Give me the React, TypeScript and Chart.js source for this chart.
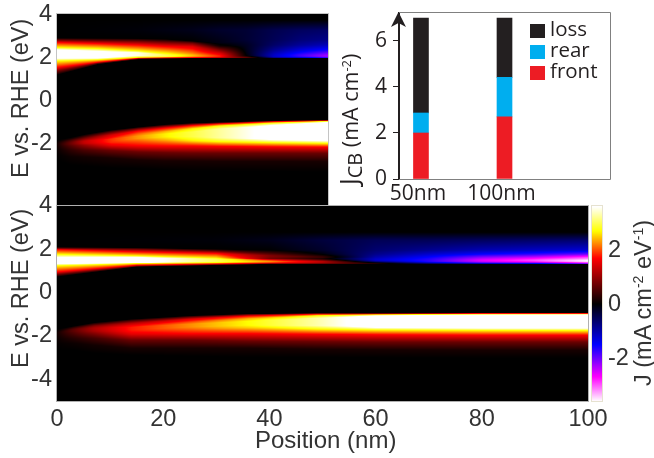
import React, { useEffect, useRef } from "react";
import { Chart, registerables } from "chart.js";

Chart.register(...registerables);

// Heat map panels: energy (eV) and current (mA cm-2 eV-1) read along each position column.
const topUpperPositions = [0, 15, 30, 40, 50, 60, 70, 80, 90, 100];
const topUpperEnergy = [
  [3.77, 3.3, 2.93, 2.84, 2.72, 2.49, 2.37, 2.0, 1.86, 1.56, 1.4, 1.21],
  [3.77, 3.3, 2.92, 2.81, 2.67, 2.44, 2.3, 2.0, 1.92, 1.8, 1.76, 1.7],
  [3.77, 3.3, 2.91, 2.79, 2.6, 2.33, 2.25, 2.11, 2.03, 1.99, 1.97, 1.93],
  [3.77, 3.3, 2.88, 2.74, 2.53, 2.22, 2.14, 2.08, 2.05, 2.01, 1.99, 1.96],
  [3.77, 3.3, 2.79, 2.7, 2.53, 2.22, 2.14, 2.08, 2.06, 2.02, 2.0, 1.98],
  [3.77, 3.3, 2.7, 2.56, 2.37, 2.22, 2.11, 2.07, 2.05, 2.02, 2.0, 1.98],
  [3.77, 3.3, 2.84, 2.6, 2.37, 2.23, 2.14, 2.09, 2.06, 2.02, 2.0, 1.98],
  [3.77, 3.3, 2.84, 2.6, 2.37, 2.23, 2.14, 2.09, 2.06, 2.02, 2.0, 1.98],
  [3.77, 3.3, 2.84, 2.6, 2.37, 2.23, 2.14, 2.09, 2.06, 2.02, 2.0, 1.98],
  [3.77, 3.3, 2.84, 2.6, 2.37, 2.23, 2.14, 2.09, 2.06, 2.02, 2.0, 1.98],
];
const topUpperCurrent = [
  [0, 0, 0, 0.7, 1.7, 2.7, 3.7, 3.7, 2.7, 1.7, 0.8, 0],
  [0, -0.02, 0, 0.7, 1.7, 2.7, 3.7, 3.7, 2.7, 1.7, 0.8, 0],
  [0, -0.05, 0, 0.7, 1.7, 2.7, 3.5, 3.5, 2.7, 1.7, 0.8, 0],
  [0, -0.1, 0, 0.7, 1.7, 2.7, 3.0, 3.0, 2.7, 1.7, 0.8, 0],
  [0, -0.15, 0, 0.7, 1.5, 2.2, 2.45, 2.45, 2.2, 1.7, 0.8, 0],
  [0, -0.25, -0.1, 0.1, 0.9, 1.5, 1.8, 1.8, 1.7, 1.3, 0.7, 0],
  [0, -0.3, -0.3, -0.2, -0.15, -0.1, -0.05, 0, 0.4, 0.6, 0.3, 0],
  [0, -0.45, -0.5, -0.6, -0.85, -1.05, -1.15, -1.15, -1.15, -0.8, -0.3, 0],
  [0, -0.55, -0.7, -0.9, -1.3, -1.6, -1.8, -1.8, -1.7, -1.2, -0.5, 0],
  [0, -0.6, -0.8, -1.1, -1.6, -2.0, -2.25, -2.3, -2.2, -1.8, -0.8, 0],
];

const topLowerPositions = [0, 5, 10, 20, 30, 40, 50, 60, 80, 100];
const topLowerEnergy = [
  [-1.81, -1.86, -1.91, -1.95, -1.98, -2.0, -2.05, -2.14, -2.28, -2.51, -2.74],
  [-1.7, -1.77, -1.81, -1.86, -1.91, -1.95, -2.0, -2.09, -2.28, -2.6, -2.98],
  [-1.56, -1.63, -1.72, -1.81, -1.86, -1.93, -1.98, -2.05, -2.28, -2.6, -3.02],
  [-1.35, -1.44, -1.58, -1.7, -1.77, -1.86, -1.93, -2.05, -2.3, -2.65, -3.12],
  [-1.21, -1.28, -1.4, -1.53, -1.63, -1.74, -1.84, -2.07, -2.37, -2.74, -3.14],
  [-1.09, -1.16, -1.26, -1.42, -1.53, -1.67, -1.81, -2.09, -2.4, -2.79, -3.21],
  [-1.02, -1.07, -1.14, -1.28, -1.44, -1.66, -1.86, -2.09, -2.42, -2.79, -3.26],
  [-0.98, -1.02, -1.06, -1.16, -1.3, -1.71, -1.89, -2.11, -2.42, -2.81, -3.26],
  [-0.91, -0.93, -0.96, -1.02, -1.15, -1.77, -1.94, -2.13, -2.42, -2.81, -3.28],
  [-0.87, -0.89, -0.92, -0.94, -1.01, -1.81, -1.97, -2.14, -2.43, -2.82, -3.3],
];
const topLowerCurrent = [
  [0, 0.02, 0.05, 0.08, 0.1, 0.1, 0.1, 0.08, 0.05, 0.02, 0],
  [0, 0.2, 0.4, 0.55, 0.65, 0.7, 0.7, 0.55, 0.3, 0.08, 0],
  [0, 0.3, 0.7, 1.1, 1.3, 1.3, 1.25, 1.0, 0.5, 0.12, 0],
  [0, 0.6, 1.4, 1.7, 1.9, 1.9, 1.85, 1.6, 0.7, 0.15, 0],
  [0, 0.7, 1.7, 2.1, 2.3, 2.3, 2.1, 1.7, 0.7, 0.15, 0],
  [0, 0.7, 1.7, 2.4, 2.65, 2.65, 2.4, 1.7, 0.7, 0.15, 0],
  [0, 0.7, 1.7, 2.6, 2.95, 2.95, 2.6, 1.7, 0.7, 0.15, 0],
  [0, 0.7, 1.7, 2.7, 3.25, 3.25, 2.7, 1.7, 0.7, 0.15, 0],
  [0, 0.7, 1.7, 2.7, 3.8, 3.8, 2.7, 1.7, 0.7, 0.15, 0],
  [0, 0.7, 1.7, 2.7, 3.9, 3.9, 2.7, 1.7, 0.7, 0.15, 0],
];

const bottomUpperPositions = [0, 15, 30, 40, 50, 60, 70, 80, 90, 100];
const bottomUpperEnergy = [
  [2.79, 2.42, 2.11, 2.05, 1.99, 1.77, 1.61, 1.35, 1.24, 0.96, 0.84, 0.73],
  [2.79, 2.42, 2.08, 2.01, 1.88, 1.7, 1.61, 1.39, 1.35, 1.27, 1.22, 1.19],
  [2.79, 2.42, 2.01, 1.92, 1.81, 1.61, 1.55, 1.43, 1.39, 1.33, 1.29, 1.26],
  [2.79, 2.42, 1.96, 1.81, 1.7, 1.57, 1.5, 1.45, 1.41, 1.37, 1.34, 1.31],
  [2.79, 2.42, 1.96, 1.78, 1.64, 1.56, 1.5, 1.45, 1.41, 1.36, 1.33, 1.3],
  [2.79, 2.42, 1.96, 1.78, 1.64, 1.56, 1.5, 1.45, 1.41, 1.36, 1.33, 1.3],
  [2.79, 2.42, 1.96, 1.78, 1.64, 1.56, 1.5, 1.45, 1.41, 1.36, 1.33, 1.3],
  [2.79, 2.42, 1.96, 1.78, 1.64, 1.56, 1.5, 1.45, 1.41, 1.36, 1.33, 1.3],
  [2.79, 2.42, 1.96, 1.78, 1.64, 1.56, 1.5, 1.45, 1.41, 1.36, 1.33, 1.3],
  [2.79, 2.42, 1.96, 1.78, 1.64, 1.56, 1.5, 1.45, 1.41, 1.36, 1.33, 1.3],
];
const bottomUpperCurrent = [
  [0, 0, 0, 0.7, 1.7, 2.7, 3.7, 3.7, 2.7, 1.7, 0.7, 0],
  [0, -0.02, 0, 0.7, 1.7, 2.7, 3.9, 3.9, 2.7, 1.7, 0.7, 0],
  [0, -0.05, 0, 0.7, 1.7, 2.6, 3.0, 3.0, 2.7, 1.7, 0.7, 0],
  [0, -0.15, 0, 0.5, 0.9, 0.8, 1.9, 2.3, 2.2, 1.7, 0.9, 0],
  [0, -0.35, -0.25, -0.05, 0.4, 0.15, 0.7, 1.2, 1.25, 1.0, 0.5, 0],
  [0, -0.5, -0.65, -0.8, -1.0, -1.15, -1.2, -0.9, -0.4, 0.2, 0.2, 0],
  [0, -0.5, -0.85, -1.2, -1.5, -1.65, -1.7, -1.7, -1.5, -0.8, -0.4, 0],
  [0, -0.55, -1.05, -1.5, -2.1, -2.4, -2.6, -2.5, -2.3, -1.5, -0.7, 0],
  [0, -0.6, -1.15, -1.7, -2.4, -2.8, -3.0, -2.9, -2.6, -1.8, -1.0, 0],
  [0, -0.65, -1.25, -2.0, -2.9, -3.2, -3.55, -3.6, -3.2, -2.6, -1.8, 0],
];

const bottomLowerPositions = [0, 3, 7, 14, 25, 36, 49, 60, 80, 100];
const bottomLowerEnergy = [
  [-1.68, -1.73, -1.78, -1.82, -1.85, -1.87, -1.92, -2.01, -2.15, -2.38, -2.65],
  [-1.55, -1.59, -1.64, -1.68, -1.73, -1.78, -1.82, -1.92, -2.1, -2.33, -2.65],
  [-1.38, -1.45, -1.52, -1.59, -1.64, -1.73, -1.78, -1.87, -2.1, -2.42, -2.79],
  [-1.22, -1.29, -1.41, -1.52, -1.59, -1.71, -1.78, -1.92, -2.19, -2.56, -2.88],
  [-1.06, -1.12, -1.22, -1.36, -1.45, -1.59, -1.68, -1.89, -2.19, -2.56, -2.93],
  [-0.97, -1.01, -1.08, -1.2, -1.32, -1.5, -1.62, -1.89, -2.24, -2.56, -2.98],
  [-0.94, -0.96, -0.99, -1.06, -1.18, -1.52, -1.68, -1.92, -2.26, -2.61, -2.98],
  [-0.93, -0.96, -0.98, -1.02, -1.08, -1.57, -1.72, -1.94, -2.28, -2.63, -3.0],
  [-0.93, -0.95, -0.96, -0.99, -1.05, -1.59, -1.74, -1.96, -2.28, -2.65, -3.02],
  [-0.92, -0.94, -0.96, -0.98, -1.04, -1.59, -1.75, -1.96, -2.28, -2.65, -3.02],
];
const bottomLowerCurrent = [
  [0, 0.02, 0.05, 0.08, 0.1, 0.1, 0.1, 0.08, 0.05, 0.02, 0],
  [0, 0.2, 0.4, 0.55, 0.6, 0.6, 0.55, 0.45, 0.25, 0.08, 0],
  [0, 0.4, 0.8, 1.05, 1.15, 1.15, 1.1, 0.9, 0.45, 0.12, 0],
  [0, 0.5, 1.2, 1.6, 1.8, 1.8, 1.75, 1.5, 0.7, 0.15, 0],
  [0, 0.6, 1.5, 2.0, 2.25, 2.25, 2.1, 1.7, 0.7, 0.15, 0],
  [0, 0.7, 1.7, 2.4, 2.7, 2.7, 2.5, 1.7, 0.7, 0.15, 0],
  [0, 0.7, 1.7, 2.7, 3.3, 3.3, 2.7, 1.7, 0.7, 0.15, 0],
  [0, 0.7, 1.7, 2.7, 3.9, 3.9, 2.7, 1.7, 0.7, 0.15, 0],
  [0, 0.7, 1.7, 2.7, 4.0, 4.0, 2.7, 1.7, 0.7, 0.15, 0],
  [0, 0.7, 1.7, 2.7, 4.0, 4.0, 2.7, 1.7, 0.7, 0.15, 0],
];

// Colour scale stops
const colorValues = [-3.6, -2.7, -1.5, 0, 1.7, 2.7, 3.6];
const colorRed = [255, 255, 0, 0, 255, 255, 255];
const colorGreen = [255, 0, 0, 0, 0, 255, 255];
const colorBlue = [255, 255, 255, 0, 0, 0, 255];

// Bar panel
const barCategories = ["50nm", "100nm"];
const frontValues = [2.0, 2.7];
const rearValues = [0.87, 1.72];
const lossValues = [4.13, 2.58];

const energyTicksTop = [4, 2, 0, -2];
const energyTicksBottom = [4, 2, 0, -2, -4];
const positionTicks = [0, 20, 40, 60, 80, 100];
const colorbarTicks = [2, 0, -2];
const barTicks = [0, 2, 4, 6];

const SANS = "'Liberation Sans', Arial, sans-serif";
const MYRIAD = "'Open Sans', sans-serif";
const GREY = "#333333";

type Band = { positions: number[]; energy: number[][]; current: number[][] };

const topBands: Band[] = [
  { positions: topUpperPositions, energy: topUpperEnergy, current: topUpperCurrent },
  { positions: topLowerPositions, energy: topLowerEnergy, current: topLowerCurrent },
];
const bottomBands: Band[] = [
  { positions: bottomUpperPositions, energy: bottomUpperEnergy, current: bottomUpperCurrent },
  { positions: bottomLowerPositions, energy: bottomLowerEnergy, current: bottomLowerCurrent },
];

function colorOf(v: number): [number, number, number] {
  const n = colorValues.length;
  if (v <= colorValues[0]) return [colorRed[0], colorGreen[0], colorBlue[0]];
  if (v >= colorValues[n - 1]) return [colorRed[n - 1], colorGreen[n - 1], colorBlue[n - 1]];
  let i = 0;
  while (v > colorValues[i + 1]) i++;
  const t = (v - colorValues[i]) / (colorValues[i + 1] - colorValues[i]);
  return [
    colorRed[i] + (colorRed[i + 1] - colorRed[i]) * t,
    colorGreen[i] + (colorGreen[i + 1] - colorGreen[i]) * t,
    colorBlue[i] + (colorBlue[i + 1] - colorBlue[i]) * t,
  ];
}

function columnAt(band: Band, pos: number) {
  const p = band.positions;
  let i = 0;
  while (i < p.length - 2 && pos > p[i + 1]) i++;
  const t = Math.min(1, Math.max(0, (pos - p[i]) / (p[i + 1] - p[i])));
  const e = band.energy[i].map((a, k) => a + (band.energy[i + 1][k] - a) * t);
  const c = band.current[i].map((a, k) => a + (band.current[i + 1][k] - a) * t);
  return { e, c };
}

function currentAt(col: { e: number[]; c: number[] }, energy: number) {
  const { e, c } = col;
  if (energy >= e[0] || energy <= e[e.length - 1]) return 0;
  let k = 0;
  while (energy < e[k + 1]) k++;
  const span = e[k] - e[k + 1];
  const t = span > 0 ? (e[k] - energy) / span : 0;
  return c[k] + (c[k + 1] - c[k]) * t;
}

function paintField(chart: any, fn: (x: number, y: number) => number) {
  const { left, top, width, height } = chart.chartArea;
  const w = Math.round(width);
  const h = Math.round(height);
  const off = document.createElement("canvas");
  off.width = w;
  off.height = h;
  const octx = off.getContext("2d")!;
  const img = octx.createImageData(w, h);
  for (let px = 0; px < w; px++) {
    for (let py = 0; py < h; py++) {
      const [r, g, b] = colorOf(fn(left + px + 0.5, top + py + 0.5));
      const o = (py * w + px) * 4;
      img.data[o] = r;
      img.data[o + 1] = g;
      img.data[o + 2] = b;
      img.data[o + 3] = 255;
    }
  }
  octx.putImageData(img, 0, 0);
  chart.ctx.drawImage(off, left, top);
}

const heatPlugin = (bands: Band[], frame: string) => ({
  id: "heat",
  beforeDatasetsDraw(chart: any) {
    const xs = chart.scales.x;
    const ys = chart.scales.y;
    let lastX = NaN;
    let cols: any[] = [];
    paintField(chart, (px, py) => {
      if (px !== lastX) {
        lastX = px;
        const pos = xs.getValueForPixel(px);
        cols = bands.map((b) => columnAt(b, pos));
      }
      const en = ys.getValueForPixel(py);
      return cols.reduce((s, c) => s + currentAt(c, en), 0);
    });
    const { left, top, width, height } = chart.chartArea;
    const ctx = chart.ctx;
    ctx.save();
    ctx.strokeStyle = frame;
    ctx.lineWidth = 1;
    ctx.strokeRect(left - 0.5, top - 0.5, width + 1, height + 1);
    ctx.restore();
  },
});

const colorbarPlugin = {
  id: "colorbar",
  beforeDatasetsDraw(chart: any) {
    const ys = chart.scales.y;
    paintField(chart, (_px, py) => ys.getValueForPixel(py));
    const { left, top, width, height } = chart.chartArea;
    const ctx = chart.ctx;
    ctx.save();
    ctx.strokeStyle = "#e6e2d0";
    ctx.lineWidth = 1;
    ctx.strokeRect(left - 0.5, top - 0.5, width + 1, height + 1);
    ctx.restore();
  },
};

const barFramePlugin = {
  id: "barFrame",
  beforeDatasetsDraw(chart: any) {
    const { left, top, right, bottom } = chart.chartArea;
    const ctx = chart.ctx;
    ctx.save();
    ctx.strokeStyle = "#808080";
    ctx.lineWidth = 1;
    ctx.beginPath();
    ctx.moveTo(left, top - 0.5);
    ctx.lineTo(right + 0.5, top - 0.5);
    ctx.lineTo(right + 0.5, bottom + 0.5);
    ctx.lineTo(left, bottom + 0.5);
    ctx.stroke();
    ctx.restore();
  },
  afterDatasetsDraw(chart: any) {
    const { left, top } = chart.chartArea;
    const ctx = chart.ctx;
    ctx.save();
    ctx.fillStyle = "#231f20";
    ctx.beginPath();
    ctx.moveTo(left - 0.5, top - 1);
    ctx.lineTo(left + 7, top + 14);
    ctx.lineTo(left - 0.5, top + 10);
    ctx.lineTo(left - 8, top + 14);
    ctx.closePath();
    ctx.fill();
    // legend, top entry first, read from the datasets
    const items = chart.data.datasets.slice().reverse();
    ctx.font = `20.5px ${MYRIAD}`;
    ctx.textBaseline = "middle";
    items.forEach((d: any, i: number) => {
      const y = chart.chartArea.top + 11 + i * 21;
      ctx.fillStyle = d.backgroundColor;
      ctx.fillRect(190, y, 15, 14);
      ctx.fillStyle = "#231f20";
      ctx.fillText(d.label, 210, y + 6);
    });
    ctx.restore();
  },
};

function pick(scale: any, list: number[]) {
  scale.ticks = list.map((value) => ({ value }));
}

function fixSize(s: any, size: { width?: number; height?: number }) {
  if (size.width !== undefined) s.width = size.width;
  if (size.height !== undefined) s.height = size.height;
  s.paddingLeft = 0;
  s.paddingRight = 0;
  s.paddingTop = 0;
  s.paddingBottom = 0;
}

function heatConfig(
  bands: Band[],
  yMin: number,
  yMax: number,
  yTicks: number[],
  showX: boolean,
  padding: any,
  frame: string
): any {
  return {
    type: "scatter",
    data: {
      datasets: bands.map((b, bi) => ({
        label: bi === 0 ? "upper band" : "lower band",
        data: b.positions.flatMap((x, i) =>
          b.energy[i].map((y, k) => ({ x, y, v: b.current[i][k] }))
        ),
        pointRadius: 0,
        showLine: false,
      })),
    },
    options: {
      animation: false,
      responsive: false,
      events: [],
      layout: { padding, autoPadding: false },
      plugins: { legend: { display: false }, tooltip: { enabled: false } },
      scales: {
        x: {
          type: "linear",
          min: 0,
          max: 100,
          display: showX,
          border: { display: false },
          grid: { display: false, drawTicks: false },
          afterBuildTicks: (s: any) => pick(s, positionTicks),
          afterFit: (s: any) => fixSize(s, { height: showX ? 30 : 0 }),
          ticks: {
            autoSkip: false,
            maxRotation: 0,
            padding: 4,
            color: GREY,
            font: { family: SANS, size: 23.5 },
          },
        },
        y: {
          type: "linear",
          min: yMin,
          max: yMax,
          border: { display: false },
          grid: { display: false, drawTicks: false },
          afterBuildTicks: (s: any) => pick(s, yTicks),
          afterFit: (s: any) => fixSize(s, { width: 57 }),
          ticks: {
            autoSkip: false,
            padding: 5,
            color: GREY,
            font: { family: SANS, size: 23.5 },
          },
        },
      },
    },
    plugins: [heatPlugin(bands, frame)],
  };
}

function colorbarConfig(): any {
  return {
    type: "scatter",
    data: {
      datasets: [
        {
          label: "J",
          data: colorValues.map((y) => ({ x: 0, y })),
          pointRadius: 0,
        },
      ],
    },
    options: {
      animation: false,
      responsive: false,
      events: [],
      layout: { padding: { left: 7, top: 16, right: 0, bottom: 30 }, autoPadding: false },
      plugins: { legend: { display: false }, tooltip: { enabled: false } },
      scales: {
        x: { display: false, min: 0, max: 1 },
        y: {
          type: "linear",
          position: "right",
          min: -3.59,
          max: 3.63,
          border: { display: false },
          grid: { display: false, drawTicks: false },
          afterBuildTicks: (s: any) => pick(s, colorbarTicks),
          afterFit: (s: any) => fixSize(s, { width: 52 }),
          ticks: {
            autoSkip: false,
            padding: 6,
            color: GREY,
            font: { family: SANS, size: 23.5 },
          },
        },
      },
    },
    plugins: [colorbarPlugin],
  };
}

function barConfig(): any {
  const series = (label: string, values: number[], color: string) => ({
    label,
    data: values.map((y, x) => ({ x, y })),
    backgroundColor: color,
    barThickness: 15,
  });
  return {
    type: "bar",
    data: {
      datasets: [
        series("front", frontValues, "#ed1c24"),
        series("rear", rearValues, "#00aeef"),
        series("loss", lossValues, "#231f20"),
      ],
    },
    options: {
      animation: false,
      responsive: false,
      events: [],
      layout: { padding: { left: 0, top: 13, right: 20, bottom: 0 }, autoPadding: false },
      plugins: { legend: { display: false }, tooltip: { enabled: false } },
      scales: {
        x: {
          type: "linear",
          stacked: true,
          offset: false,
          min: -0.263,
          max: 2.263,
          border: { display: false },
          grid: { display: false, drawTicks: false },
          afterBuildTicks: (s: any) => pick(s, [0, 1]),
          afterFit: (s: any) => fixSize(s, { height: 26 }),
          ticks: {
            autoSkip: false,
            maxRotation: 0,
            padding: 2,
            labelOffset: -3,
            color: "#231f20",
            font: { family: MYRIAD, size: 21 },
            callback: (v: number) => barCategories[v],
          },
        },
        y: {
          type: "linear",
          stacked: true,
          min: 0,
          max: 7.217,
          border: { display: true, color: "#231f20", width: 2 },
          grid: { drawOnChartArea: false, drawTicks: true, tickLength: 6, color: "#231f20", lineWidth: 1 },
          afterBuildTicks: (s: any) => pick(s, barTicks),
          afterFit: (s: any) => fixSize(s, { width: 59 }),
          ticks: {
            autoSkip: false,
            padding: 6,
            color: "#231f20",
            font: { family: MYRIAD, size: 21 },
          },
        },
      },
    },
    plugins: [barFramePlugin],
  };
}

const rotated = (x: number, y: number, size: number, family: string, color: string): React.CSSProperties => ({
  position: "absolute",
  left: x,
  top: y,
  transformOrigin: "0 0",
  transform: "rotate(-90deg)",
  whiteSpace: "nowrap",
  fontFamily: family,
  fontSize: size,
  lineHeight: `${size}px`,
  color,
});

const supStyle: React.CSSProperties = { fontSize: "60%", verticalAlign: "0.55em", lineHeight: 0 };
const subStyle: React.CSSProperties = { fontSize: 20, verticalAlign: "-0.22em", lineHeight: 0 };

const canvasStyle = (left: number, top: number): React.CSSProperties => ({
  position: "absolute",
  left,
  top,
  display: "block",
});

export default function App() {
  const topRef = useRef<HTMLCanvasElement>(null);
  const bottomRef = useRef<HTMLCanvasElement>(null);
  const barRef = useRef<HTMLCanvasElement>(null);
  const cbRef = useRef<HTMLCanvasElement>(null);

  useEffect(() => {
    const charts = [
      new Chart(
        topRef.current!,
        heatConfig(topBands, -4.837, 4.047, energyTicksTop, false, { left: 0, top: 14, right: 2, bottom: 1 }, "#c4c4c4")
      ),
      new Chart(
        bottomRef.current!,
        heatConfig(bottomBands, -5, 4, energyTicksBottom, true, { left: 0, top: 16, right: 30, bottom: 27 }, "#b0b0b0")
      ),
      new Chart(barRef.current!, barConfig()),
      new Chart(cbRef.current!, colorbarConfig()),
    ];
    return () => charts.forEach((c) => c.destroy());
  }, []);

  return (
    <div style={{ position: "fixed", left: 0, top: 0, width: 654, height: 458, background: "#fff", overflow: "hidden" }}>
      <canvas ref={topRef} width={330} height={206} style={canvasStyle(0, 0)} />
      <canvas ref={barRef} width={290} height={205} style={canvasStyle(340, 0)} />
      <canvas ref={bottomRef} width={618} height={268} style={canvasStyle(0, 190)} />
      <canvas ref={cbRef} width={69} height={241} style={canvasStyle(585, 190)} />
      <div style={rotated(9, 178, 23.5, SANS, GREY)}>E vs. RHE (eV)</div>
      <div style={rotated(9, 368, 23.5, SANS, GREY)}>E vs. RHE (eV)</div>
      <div style={{ position: "absolute", left: 255, top: 428, whiteSpace: "nowrap", fontFamily: SANS, fontSize: 24, lineHeight: "24px", color: GREY }}>
        Position (nm)
      </div>
      <div style={rotated(338, 185, 21.5, MYRIAD, "#231f20")}>
        <span style={{ fontSize: 25 }}>J</span>
        <span style={subStyle}>CB</span> (mA cm<span style={supStyle}>-2</span>)
      </div>
      <div style={rotated(632, 386, 23.5, SANS, GREY)}>
        J (mA cm<span style={supStyle}>-2</span> eV<span style={supStyle}>-1</span>)
      </div>
    </div>
  );
}
